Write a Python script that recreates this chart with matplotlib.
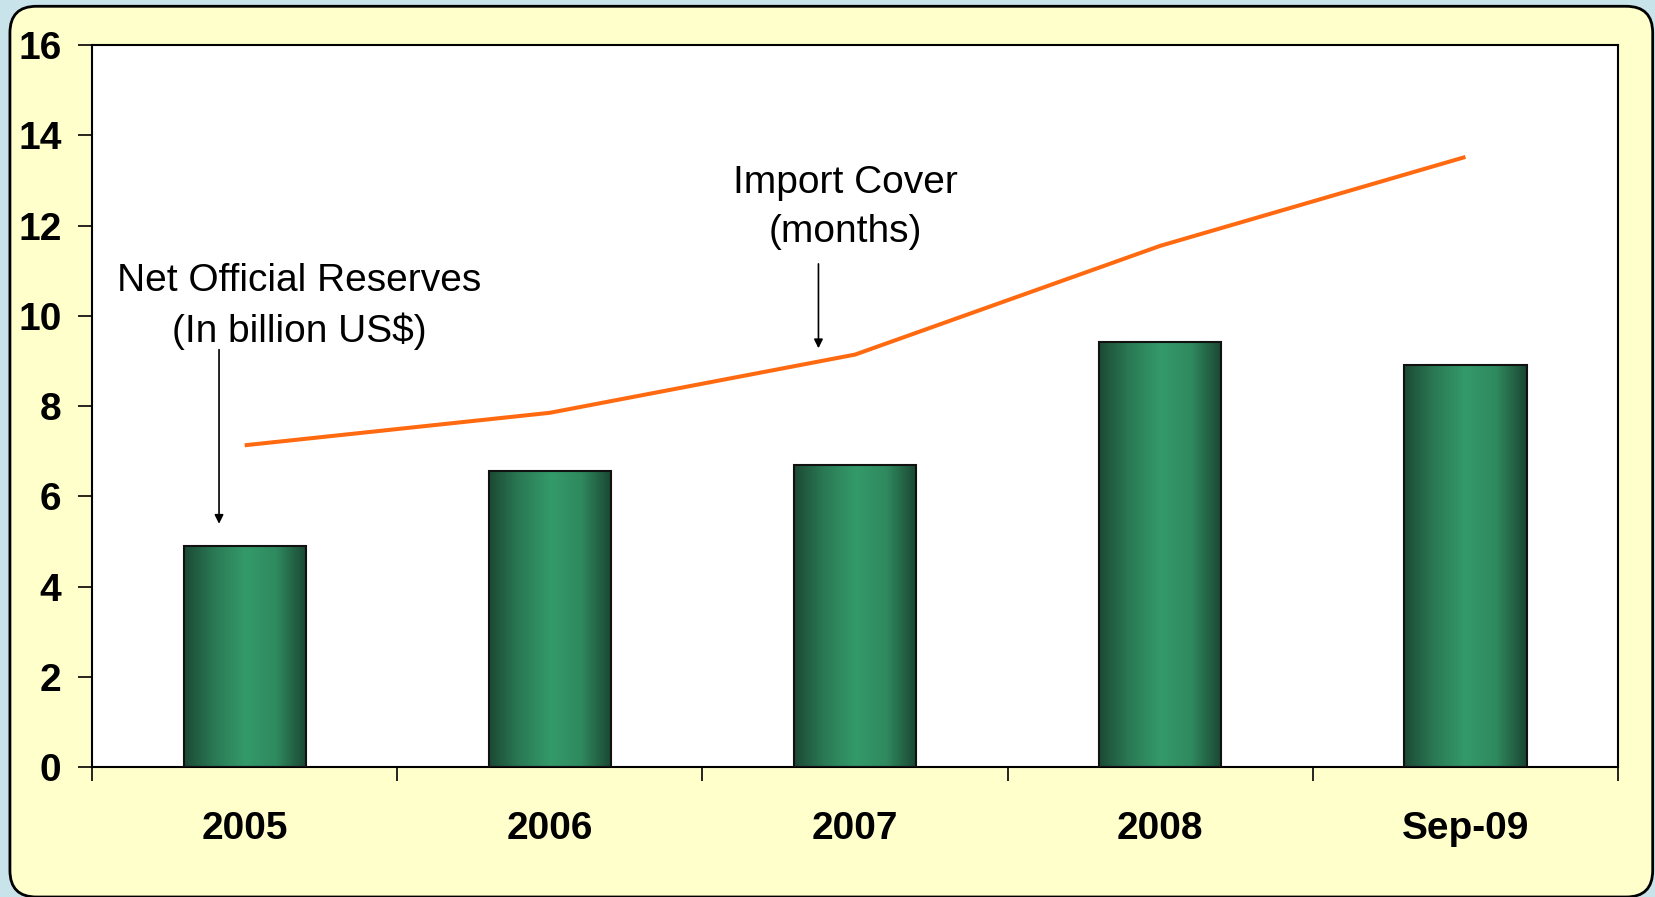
import numpy as np
import matplotlib.pyplot as plt
from matplotlib.patches import FancyBboxPatch
from matplotlib.colors import LinearSegmentedColormap

periods = ['2005', '2006', '2007', '2008', 'Sep-09']
reserves = [4.9, 6.55, 6.7, 9.42, 8.9]          # net official reserves, billion US$
import_cover = [7.13, 7.85, 9.14, 11.55, 13.52]  # months of imports

plt.rcParams['font.family'] = ['Liberation Sans', 'DejaVu Sans']

fig = plt.figure(figsize=(16.56, 8.97), dpi=100)
fig.patch.set_facecolor('#c8e4ea')

# rounded cream panel behind the chart
panel = FancyBboxPatch((0.006, 0.0), 0.992, 0.993,
                       boxstyle='round,pad=0,rounding_size=0.016',
                       transform=fig.transFigure, facecolor='#ffffcc',
                       edgecolor='black', linewidth=2, mutation_aspect=1.846,
                       zorder=-10)
fig.add_artist(panel)

ax = fig.add_axes([0.0556, 0.1449, 0.9215, 0.8049])
ax.set_facecolor('white')

x = np.arange(len(periods))
width = 0.4

# green bars with a horizontal cylinder-like shading
shade = LinearSegmentedColormap.from_list(
    'bar', ['#1c4a35', '#2a7a55', '#349a6a', '#2f8a5f', '#1a4632'])
grad = np.linspace(0, 1, 256).reshape(1, -1)
bars = ax.bar(x, reserves, width=width, facecolor='none', edgecolor='#111111',
              linewidth=1.5, zorder=3)
for b in bars:
    x0, y0 = b.get_x(), b.get_y()
    im = ax.imshow(grad, cmap=shade, aspect='auto', zorder=2,
                   extent=[x0, x0 + b.get_width(), y0, y0 + b.get_height()])
    im.set_clip_path(b)

ax.plot(x, import_cover, color='#ff6a10', linewidth=2.9, zorder=4,
        solid_capstyle='butt')

ax.set_xlim(-0.5, len(periods) - 0.5)
ax.set_ylim(0, 16)
ax.set_yticks(range(0, 17, 2))
ax.set_xticks(x)
ax.set_xticklabels(periods)
ax.set_xticks(np.arange(-0.5, len(periods), 1), minor=True)
ax.tick_params(axis='x', which='major', length=0, pad=32, labelsize=28)
ax.tick_params(axis='x', which='minor', length=10, width=1.2, direction='out')
ax.tick_params(axis='y', length=10, width=1.2, pad=12, labelsize=28)
for lbl in ax.get_xticklabels() + ax.get_yticklabels():
    lbl.set_fontweight('bold')
for sp in ax.spines.values():
    sp.set_linewidth(1.5)

ax.text(0.178, 10.2, 'Net Official Reserves\n(In billion US$)', ha='center',
        va='center', fontsize=28, linespacing=1.45, zorder=5)
ax.annotate('', xy=(-0.084, 5.39), xytext=(-0.084, 9.25),
            arrowprops=dict(arrowstyle='-|>', color='black', lw=1.2,
                            mutation_scale=13, shrinkA=0, shrinkB=0))

ax.text(1.967, 12.4, 'Import Cover\n(months)', ha='center', va='center',
        fontsize=28, linespacing=1.45, zorder=5)
ax.annotate('', xy=(1.88, 9.28), xytext=(1.88, 11.15),
            arrowprops=dict(arrowstyle='-|>', color='black', lw=1.2,
                            mutation_scale=13, shrinkA=0, shrinkB=0))

fig.savefig('out.png', dpi=100, facecolor=fig.get_facecolor())
